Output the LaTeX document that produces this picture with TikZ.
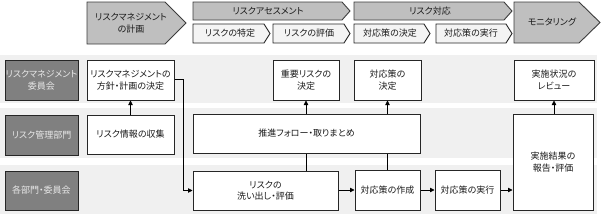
\documentclass[tikz,border=0pt]{standalone}
\usepackage{fontspec}
\setmainfont{Noto Sans CJK JP}[RawFeature={+palt}]
\usetikzlibrary{arrows.meta}
\definecolor{bandc}{HTML}{F0F0F0}
\definecolor{edgec}{HTML}{262626}
\definecolor{phasec}{HTML}{BFBFBF}
\definecolor{subc}{HTML}{F4F4F4}
\definecolor{labc}{HTML}{808080}
\definecolor{labtext}{HTML}{E8E8E8}
\definecolor{txtc}{HTML}{1A1A1A}
\tikzset{
  band/.style={fill=bandc, draw=none},
  phase/.style={fill=phasec, draw=edgec!90, line width=0.9pt, line join=miter},
  subphase/.style={fill=subc, draw=edgec, line width=0.9pt, line join=miter},
  txt/.style={text=txtc, font=\fontsize{9}{11.5}\selectfont, align=center, inner sep=0pt},
  rowlab/.style={fill=labc, draw=edgec, line width=1pt, text=labtext, font=\fontsize{9}{11.5}\selectfont, align=center, inner sep=0pt},
  taskbox/.style={fill=white, draw=edgec, line width=1pt, text=txtc, font=\fontsize{9}{11.5}\selectfont, align=center, inner sep=0pt},
  conn/.style={draw=black, line width=0.8pt},
  arr/.style={conn, -{Triangle[length=4.5pt,width=4.5pt]}}
}
\begin{document}
\begin{tikzpicture}[x=1pt,y=-1pt]
\useasboundingbox (0,0) rectangle (602,215);
% bands
\fill[band] (0,55) rectangle (597,103);
\fill[band] (0,108) rectangle (597,158);
\fill[band] (0,165) rectangle (597,214);
% phase arrows
\draw[phase] (87,2) -- (165,2) -- (186,23) -- (165,44) -- (87,44) -- cycle;
\node[txt] (p1) at (131,23) {リスクマネジメント\\の計画};
\draw[phase] (193,2) -- (342,2) -- (350,11) -- (342,20) -- (193,20) -- cycle;
\node[txt] (p2) at (268,11) {リスクアセスメント};
\draw[subphase] (193,24) -- (264,24) -- (270,33.5) -- (264,43) -- (193,43) -- cycle;
\node[txt] (s1) at (230,33.5) {リスクの特定};
\draw[subphase] (273,24) -- (344,24) -- (350,33.5) -- (344,43) -- (273,43) -- cycle;
\node[txt] (s2) at (309,33.5) {リスクの評価};
\draw[phase] (354,2) -- (504,2) -- (512,11) -- (504,20) -- (354,20) -- cycle;
\node[txt] (p3) at (430,11) {リスク対応};
\draw[subphase] (354,24) -- (424,24) -- (430,33.5) -- (424,43) -- (354,43) -- cycle;
\node[txt] (s3) at (390,33.5) {対応策の決定};
\draw[subphase] (436,24) -- (506,24) -- (512,33.5) -- (506,43) -- (436,43) -- cycle;
\node[txt] (s4) at (471,33.5) {対応策の実行};
\draw[phase] (514,2) -- (579,2) -- (600,22.5) -- (579,43) -- (514,43) -- cycle;
\node[txt] (p4) at (552,22.5) {モニタリング};
% row labels
\node[rowlab, minimum width=73pt, minimum height=40pt] (l1) at (41.5,80) {リスクマネジメント\\委員会};
\node[rowlab, minimum width=73pt, minimum height=40pt] (l2) at (41.5,135) {リスク管理部門};
\node[rowlab, minimum width=73pt, minimum height=39pt] (l3) at (41.5,190.5) {各部門・委員会};
% row 1
\node[taskbox, minimum width=87pt, minimum height=40pt] (a) at (130.5,80) {リスクマネジメントの\\方針・計画の決定};
\node[taskbox, minimum width=66pt, minimum height=40pt] (b) at (306,80) {重要リスクの\\決定};
\node[taskbox, minimum width=67pt, minimum height=40pt] (c) at (387.5,80) {対応策の\\決定};
\node[taskbox, minimum width=80pt, minimum height=40pt] (d) at (554,80) {実施状況の\\レビュー};
% row 2
\node[taskbox, minimum width=87pt, minimum height=39pt] (e) at (130.5,134.5) {リスク情報の収集};
\node[taskbox, minimum width=227pt, minimum height=39pt] (f) at (306.5,133.5) {推進フォロー・取りまとめ};
\node[taskbox, minimum width=80pt, minimum height=96pt] (j) at (553,162) {実施結果の\\報告・評価};
% row 3
\node[taskbox, minimum width=145pt, minimum height=39pt] (g) at (265.5,190.5) {リスクの\\洗い出し・評価};
\node[taskbox, minimum width=65pt, minimum height=40pt] (h) at (387.5,190) {対応策の作成};
\node[taskbox, minimum width=65pt, minimum height=40pt] (i) at (467.5,190) {対応策の実行};
% connectors
\coordinate (k1) at (183,0);
\draw[arr] (e.north) -- (a.south);
\draw[arr] (a.east |- 0,79) -| (k1 |- g.west) -- (g.west);
\draw[arr] (f.north -| b.south) -- (b.south);
\draw[conn] (g.north -| b.south) -- (f.south -| b.south);
\draw[arr] (f.north -| c.south) -- (c.south);
\draw[conn] (h.north) -- (f.south -| h.north);
\draw[arr] (g.east |- h.west) -- (h.west);
\draw[arr] (h.east) -- (i.west);
\draw[arr] (i.east) -- (j.west |- i.east);
\draw[arr] (j.north -| d.south) -- (d.south);
\end{tikzpicture}
\end{document}
